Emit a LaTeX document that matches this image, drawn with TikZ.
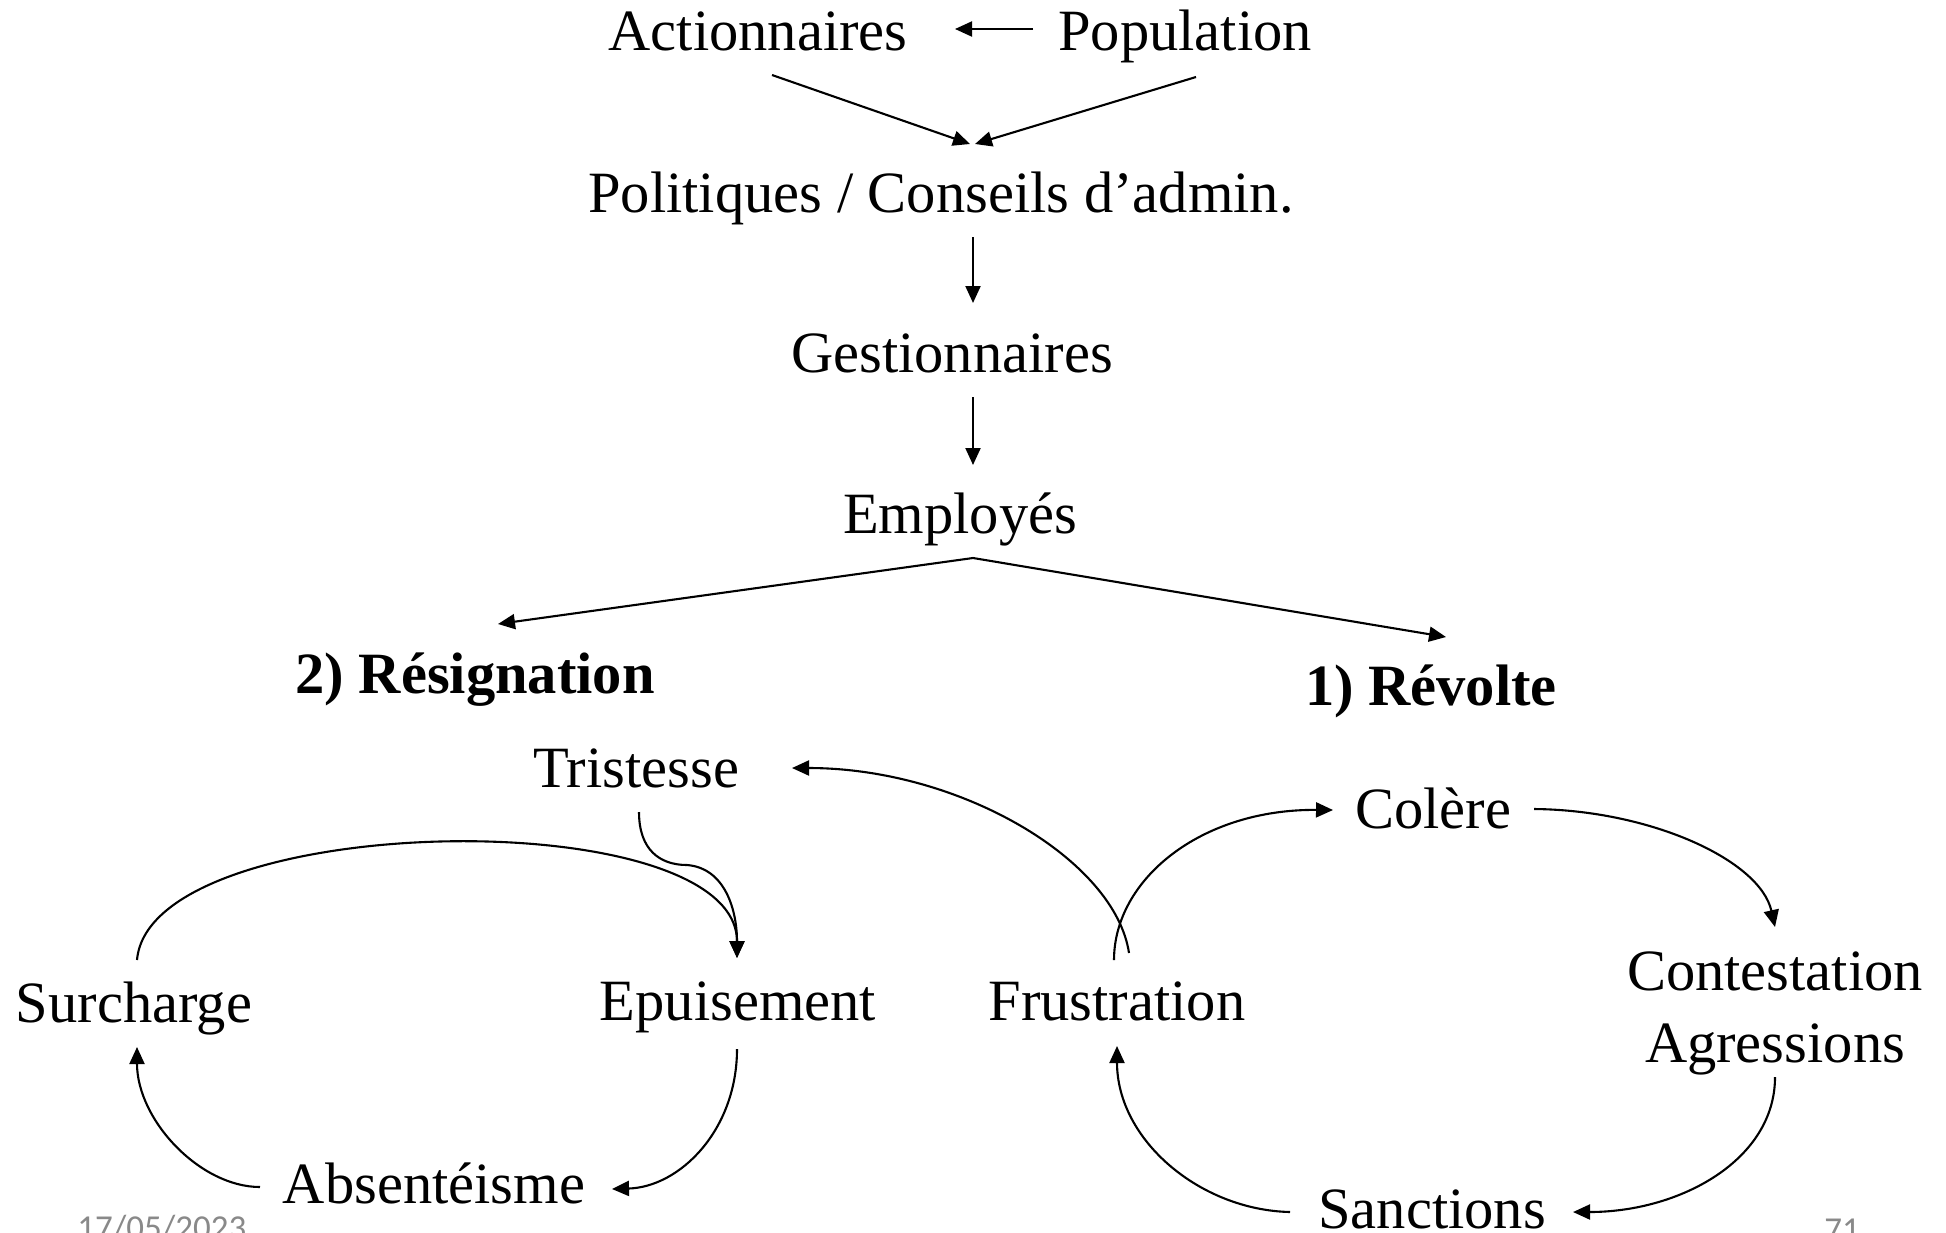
\documentclass[tikz,border=0pt]{standalone}
\usepackage{fontspec}
\setmainfont{Liberation Serif}
\newfontfamily\footfont{Carlito}
\usetikzlibrary{arrows.meta}
\definecolor{footgray}{RGB}{137,137,137}
\begin{document}
\begin{tikzpicture}[x=0.5pt,y=-0.5pt,
  lbl/.style={inner sep=0pt,anchor=base,font=\fontsize{29.25}{36}\selectfont},
  hdr/.style={lbl,font=\fontsize{29.25}{36}\selectfont\bfseries},
  link/.style={line width=1.05pt,-{Triangle[length=8.5pt,width=7.5pt]}},
  foot/.style={inner sep=0pt,anchor=base west,text=footgray,font=\footfont\fontsize{17.5}{20}\selectfont}]
\useasboundingbox (0,0) rectangle (1946,1232);
\clip (0,0) rectangle (1946,1232);

% hierarchy
\node[lbl] (act) at (758,50) {Actionnaires};
\node[lbl] (pop) at (1185,50) {Population};
\node[lbl] (pol) at (941,212) {Politiques / Conseils d’admin.};
\node[lbl] (gest) at (952,372) {Gestionnaires};
\node[lbl] (emp) at (960,533) {Employés};
\node[hdr] (resig) at (475,693) {2) Résignation};
\node[hdr] (revolte) at (1431,705) {1) Révolte};

% resignation cycle
\node[lbl] (trist) at (636,787) {Tristesse};
\node[lbl] (surch) at (134,1022) {Surcharge};
\node[lbl] (epuis) at (738,1020) {Epuisement};
\node[lbl] (absent) at (434,1203) {Absentéisme};

% revolt cycle
\node[lbl] (frust) at (1117,1020) {Frustration};
\node[lbl] (colere) at (1433,828) {Colère};
\node[inner sep=0pt,align=center,font=\fontsize{29.25}{36}\selectfont] (contest) at (1775,1013) {Contestation\\Agressions};
\node[lbl] (sanct) at (1432,1228) {Sanctions};

% footer
\node[foot] (date) at (77,1239) {17/05/2023};
\node[foot] (page) at (1824,1241) {71};

% straight links
\draw[link] ([shift={(-152,-21)}]pop.base) -- ([shift={(197,-21)}]act.base);
\draw[link] ([shift={(14,25)}]act.base) -- ([shift={(29,-68)}]pol.base);
\draw[link] ([shift={(11,27)}]pop.base) -- ([shift={(34,-68)}]pol.base);
\draw[link] ([shift={(32,25)}]pol.base) -- ([shift={(21,-69)}]gest.base);
\draw[link] ([shift={(21,25)}]gest.base) -- ([shift={(13,-68)}]emp.base);
\draw[link] ([shift={(13,25)}]emp.base) -- ([shift={(23,-69)}]resig.base);
\draw[link] ([shift={(13,25)}]emp.base) -- ([shift={(15,-68)}]revolte.base);

% resignation cycle links
\draw[link] ([shift={(3,-62)}]surch.base) .. controls (150,810) and (737,800) .. ([shift={(-1,-62)}]epuis.base);
\draw[link] ([shift={(3,25)}]trist.base) .. controls (639,850) and (660,865) .. (687,865)
  .. controls (725,868) and (737,910) .. ([shift={(-1,-62)}]epuis.base);
\draw[link] ([shift={(-1,29)}]epuis.base) .. controls (737,1130) and (680,1187) .. ([shift={(178,-14)}]absent.base);
\draw[link] ([shift={(-174,-16)}]absent.base) .. controls (200,1187) and (137,1120) .. ([shift={(3,25)}]surch.base);

% revolt cycle links
\draw[link] ([shift={(12,-67)}]frust.base) .. controls (1115,860) and (960,768) .. ([shift={(156,-19)}]trist.base);
\draw[link] ([shift={(-3,-60)}]frust.base) .. controls (1114,880) and (1200,809) .. ([shift={(-100,-18)}]colere.base);
\draw[link] ([shift={(101,-19)}]colere.base) .. controls (1650,810) and (1760,860) .. ([shift={(0,-86)}]contest.center);
\draw[link] ([shift={(0,64)}]contest.center) .. controls (1775,1160) and (1680,1212) .. ([shift={(141,-16)}]sanct.base);
\draw[link] ([shift={(-142,-16)}]sanct.base) .. controls (1200,1210) and (1117,1140) .. ([shift={(0,26)}]frust.base);
\end{tikzpicture}
\end{document}
